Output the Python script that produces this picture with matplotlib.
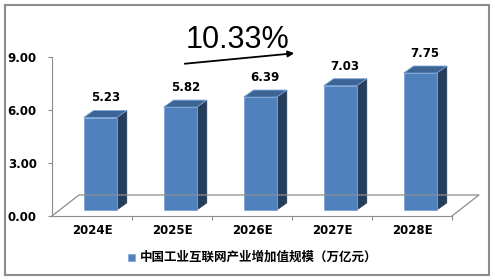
import matplotlib.pyplot as plt
from matplotlib.patches import Polygon, Rectangle

plt.rcParams['font.family'] = ['Noto Sans CJK SC', 'DejaVu Sans']

# data
years = ['2024E', '2025E', '2026E', '2027E', '2028E']
values = [5.23, 5.82, 6.39, 7.03, 7.75]
series_name = '中国工业互联网产业增加值规模（万亿元）'
growth = '10.33%'
yticks = [0, 3, 6, 9]

front_c = '#4F81BD'
side_c = '#263E5C'
top_c = '#3C6494'
edge_c = '#7FA6D6'
gray = '#8C8C8C'

fig = plt.figure(figsize=(4.95, 2.8), dpi=100)
# outer frame
fig.patches.append(Rectangle((5 / 495, 5 / 280), 484 / 495, 270 / 280,
                             transform=fig.transFigure, fill=False,
                             edgecolor=gray, linewidth=1.5))

ax = fig.add_axes([52 / 495, (280 - 216) / 280, (486 - 52) / 495, 159 / 280])
ax.set_xlim(-0.5, -0.5 + 434 / 80)
ax.set_ylim(0, 9)

# pseudo 3d geometry (in data units)
base = 0.34      # front face base lifted by floor depth
bl, br = -0.105, 0.31
dx, dy = 0.125, 0.40
fdx, fdy = 27 / 80, 1.19   # floor depth

# floor
n = len(years)
ax.plot([-0.5, -0.5 + fdx, n - 0.5 + fdx, n - 0.5], [0, fdy, fdy, 0],
        color=gray, lw=0.9, clip_on=False)

for i, v in enumerate(values):
    L, R = i + bl, i + br
    top = base + v
    ax.add_patch(Polygon([(R, base), (R + dx, base + dy), (R + dx, top + dy), (R, top)],
                         closed=True, facecolor=side_c, edgecolor=side_c, lw=0.5))
    ax.add_patch(Polygon([(L, top), (R, top), (R + dx, top + dy), (L + dx, top + dy)],
                         closed=True, facecolor=top_c, edgecolor=edge_c, lw=0.6))
    ax.add_patch(Rectangle((L, base), R - L, v, facecolor=front_c,
                           edgecolor=edge_c, lw=0.6))
    ax.text((L + R + dx) / 2, top + dy + 0.35, f'{v:.2f}', ha='center', va='bottom',
            fontsize=8.5, fontweight='bold', family='DejaVu Sans')

# axes styling
for s in ['top', 'right']:
    ax.spines[s].set_visible(False)
ax.spines['left'].set_color(gray)
ax.spines['bottom'].set_color(gray)
ax.spines['bottom'].set_bounds(-0.5, n - 0.5)
ax.set_yticks(yticks)
ax.set_yticklabels([f'{t:.2f}' for t in yticks], fontsize=8.5, fontweight='bold',
                   family='DejaVu Sans')
ax.tick_params(axis='y', length=3, color=gray, pad=8)
ax.set_xticks([i + 0.5 for i in range(n - 1)] + [n - 0.5])
ax.set_xticklabels([])
ax.tick_params(axis='x', which='major', length=3, color=gray)
ax.set_xticks(range(n), minor=True)
ax.set_xticklabels(years, minor=True, fontsize=8.5, fontweight='bold',
                   family='DejaVu Sans')
ax.tick_params(axis='x', which='minor', length=0, pad=6)

# growth annotation
fig.text(238 / 495, 1 - 40 / 280, growth, ha='center', va='center',
         fontsize=22, family='Liberation Sans')
ax.annotate('', xy=(297 / 495, 1 - 53 / 280), xytext=(182 / 495, 1 - 64 / 280),
            xycoords='figure fraction', textcoords='figure fraction',
            arrowprops=dict(arrowstyle='-|>', color='black', lw=1.3,
                            mutation_scale=9))

# legend
fig.patches.append(Rectangle((128 / 495, 1 - 261 / 280), 7 / 495, 7 / 280,
                             transform=fig.transFigure, facecolor=front_c,
                             edgecolor=edge_c, lw=0.5))
fig.text(140 / 495, 1 - 257 / 280, series_name, ha='left', va='center',
         fontsize=9, fontweight='bold')

fig.savefig('out.png', dpi=100)
